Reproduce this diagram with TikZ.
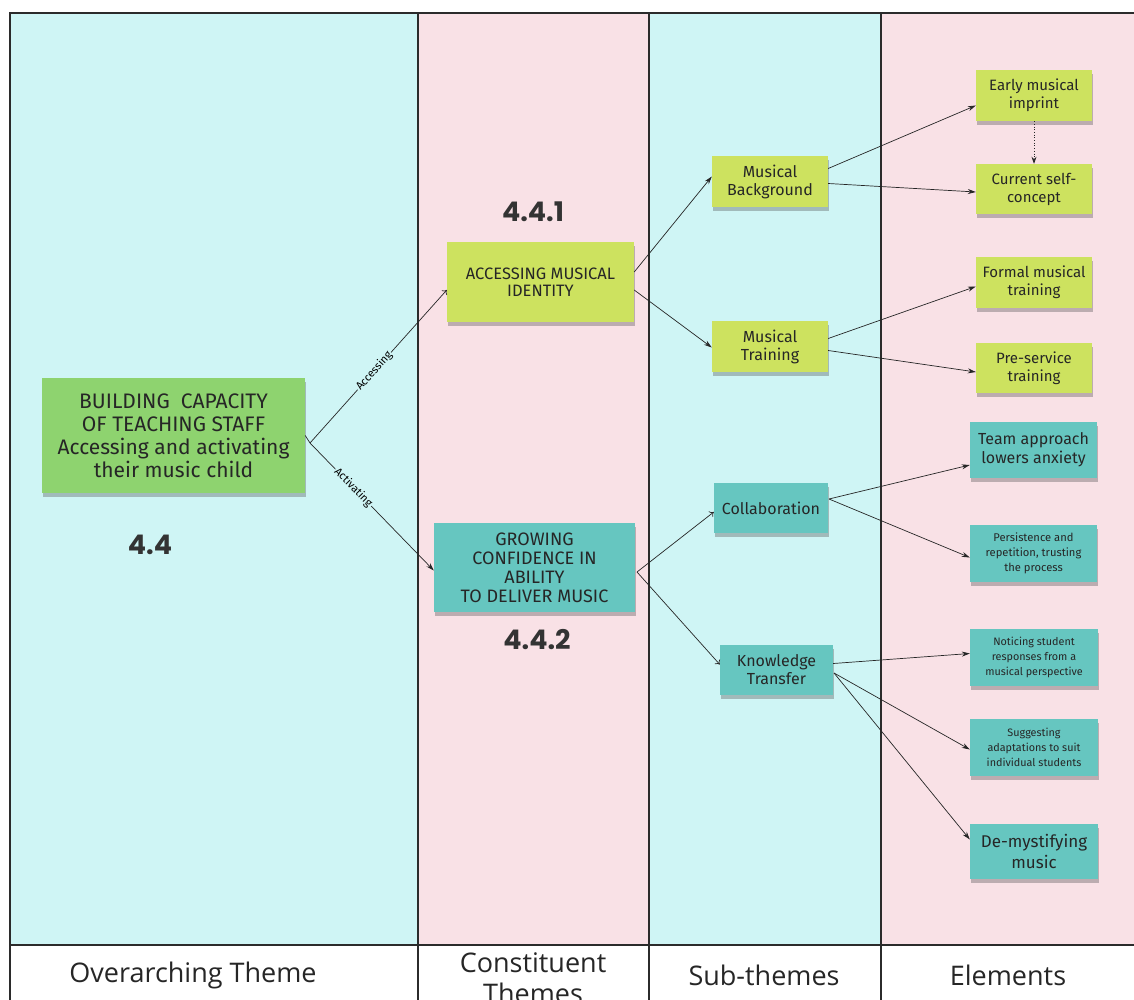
\documentclass[tikz,border=0pt]{standalone}
\usepackage{fontspec}
\setmainfont{Open Sans}
\newfontfamily\hand{Fira Sans}
\newfontfamily\numf{Poppins}
\usetikzlibrary{arrows.meta,shadows}
\definecolor{bgcyan}{HTML}{CFF5F5}
\definecolor{bgpink}{HTML}{F9E1E6}
\definecolor{maingreen}{HTML}{8ED36F}
\definecolor{ygreen}{HTML}{CDE25F}
\definecolor{tealn}{HTML}{66C6C0}
\definecolor{frame}{HTML}{2B2B2B}
\tikzset{
  note/.style={rectangle, inner sep=2pt, align=center, text=black!85,
    drop shadow={shadow xshift=1pt, shadow yshift=-4pt, opacity=0.35, fill=black!70}},
  yn/.style={note, fill=ygreen},
  tn/.style={note, fill=tealn},
  conn/.style={draw=black!85, line width=0.7pt},
  fa/.style={conn, -{Stealth[length=8pt,width=5pt]}},
  oa/.style={conn, -{To[length=4pt,width=7pt]}},
  elab/.style={font=\hand\fontsize{11}{12}\selectfont, sloped, fill=bgcyan, inner sep=1pt},
  numlab/.style={font=\numf\bfseries\fontsize{27}{30}\selectfont, text=black!80},
  collab/.style={font=\fontsize{27}{31}\selectfont, align=center, text=black!85},
  frameline/.style={draw=frame, line width=2pt}
}
\begin{document}
\begin{tikzpicture}[x=1pt,y=-1pt]
\useasboundingbox (0,0) rectangle (1134,1000);
% backgrounds
\fill[white] (0,0) rectangle (1134,1000);
\fill[bgcyan] (10,13) rectangle (418,945);
\fill[bgpink] (418,13) rectangle (649,945);
\fill[bgcyan] (649,13) rectangle (881,945);
\fill[bgpink] (881,13) rectangle (1140,945);
% frame
\draw[frameline] (1140,13) -- (10,13) -- (10,1005);
\draw[frameline] (10,945) -- (1140,945);
\draw[frameline] (418,13) -- (418,1005);
\draw[frameline] (649,13) -- (649,1005);
\draw[frameline] (881,13) -- (881,1005);
% column labels
\node[collab] (l1) at (193,975) {Overarching Theme};
\node[collab] (l2) at (533,978) {Constituent\\Themes};
\node[collab] (l3) at (764,975) {Sub-themes};
\node[collab] (l4) at (1008,975) {Elements};
% numbers
\node[numlab] (n1) at (150,545) {4.4};
\node[numlab] (n2) at (533,212) {4.4.1};
\node[numlab] (n3) at (537,640) {4.4.2};
% nodes
\node[note, fill=maingreen, minimum width=263pt, minimum height=115pt,
  font=\hand\fontsize{21}{23}\selectfont] (main) at (173.5,435.5)
  {BUILDING\ \ CAPACITY\\OF TEACHING STAFF\\Accessing and activating\\their music child};
\node[yn, minimum width=187pt, minimum height=80pt, font=\hand\fontsize{16.5}{17}\selectfont] (acc) at (540.5,282)
  {ACCESSING MUSICAL\\IDENTITY};
\node[tn, minimum width=201pt, minimum height=89pt, font=\hand\fontsize{18}{19}\selectfont] (grow) at (534.5,567.5)
  {GROWING\\CONFIDENCE IN\\ABILITY\\TO DELIVER MUSIC};
\node[yn, minimum width=116pt, minimum height=51pt, font=\hand\fontsize{16}{18}\selectfont] (mb) at (770,181.5) {Musical\\Background};
\node[yn, minimum width=116pt, minimum height=51pt, font=\hand\fontsize{16}{18}\selectfont] (mt) at (770,346.5) {Musical\\Training};
\node[tn, minimum width=114pt, minimum height=50pt, font=\hand\fontsize{16}{18}\selectfont] (coll) at (771,508) {Collaboration};
\node[tn, minimum width=113pt, minimum height=50pt, font=\hand\fontsize{16}{18}\selectfont] (kt) at (776.5,669.5) {Knowledge\\Transfer};
\node[yn, minimum width=116pt, minimum height=51pt, font=\hand\fontsize{15}{18}\selectfont] (early) at (1034,95.5) {Early musical\\imprint};
\node[yn, minimum width=116pt, minimum height=50pt, font=\hand\fontsize{15}{18}\selectfont] (cur) at (1034,189) {Current self-\\concept};
\node[yn, minimum width=116pt, minimum height=51pt, font=\hand\fontsize{15}{18}\selectfont] (formal) at (1034,282.5) {Formal musical\\training};
\node[yn, minimum width=116pt, minimum height=50pt, font=\hand\fontsize{15}{18}\selectfont] (pre) at (1034,368) {Pre-service\\training};
\node[tn, minimum width=127pt, minimum height=56pt, font=\hand\fontsize{16}{19}\selectfont] (team) at (1033.5,450) {Team approach\\lowers anxiety};
\node[tn, minimum width=127pt, minimum height=57pt, font=\hand\fontsize{11.2}{15}\selectfont] (pers) at (1033.5,553.5) {Persistence and\\repetition, trusting\\the process};
\node[tn, minimum width=128pt, minimum height=57pt, font=\hand\fontsize{10.8}{15}\selectfont] (notic) at (1034,657.5) {Noticing student\\responses from a\\musical perspective};
\node[tn, minimum width=128pt, minimum height=57pt, font=\hand\fontsize{10.8}{15}\selectfont] (sugg) at (1034,747.5) {Suggesting\\adaptations to suit\\individual students};
\node[tn, minimum width=128pt, minimum height=55pt, font=\hand\fontsize{17}{21}\selectfont] (demys) at (1034,851.5) {De-mystifying\\music};
% connectors
\coordinate (b0) at (310,443);
\draw[conn] (main.east) -- (b0);
\draw[oa] (b0) -- node[elab, pos=0.47] {Accessing} ([yshift=-8pt]acc.west);
\draw[fa] (b0) -- node[elab, pos=0.35] {Activating} ([yshift=-3pt]grow.west);
\draw[fa] ([yshift=10pt]acc.east) -- ([yshift=5pt]mb.west);
\draw[fa] ([yshift=-8pt]acc.east) -- ([yshift=-1pt]mt.west);
\coordinate (g0) at (637,572);
\draw[oa] (g0) -- ([yshift=-4pt]coll.west);
\draw[oa] (g0) -- ([yshift=5pt]kt.west);
\draw[fa] ([yshift=13pt]mb.east) -- ([yshift=-10pt]early.west);
\draw[fa] ([yshift=-2pt]mb.east) -- ([yshift=-3pt]cur.west);
\draw[fa] ([yshift=8pt]mt.east) -- ([yshift=-4pt]formal.west);
\draw[fa] ([yshift=-4pt]mt.east) -- ([yshift=-4pt]pre.west);
\coordinate (c0) at (829,499);
\draw[fa] (c0) -- ([yshift=-15pt]team.west);
\draw[fa] (c0) -- ([yshift=-4pt]pers.west);
\draw[fa] ([yshift=6pt]kt.east) -- ([yshift=4pt]notic.west);
\coordinate (k0) at (834,673);
\draw[fa] (k0) -- ([yshift=-2pt]sugg.west);
\draw[fa] (k0) -- ([yshift=12pt]demys.west);
\draw[conn, dotted, -{Stealth[length=7pt,width=5pt]}] (early.south) -- (cur.north);
\end{tikzpicture}
\end{document}
